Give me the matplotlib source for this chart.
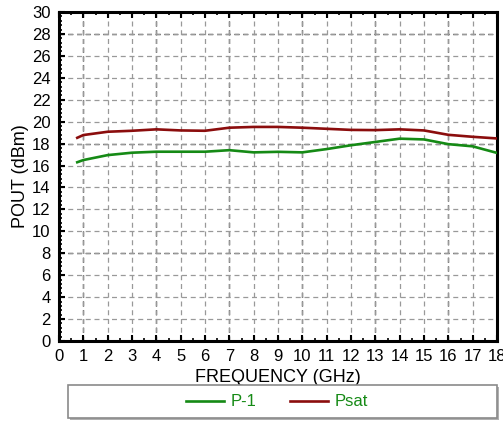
import matplotlib
matplotlib.use('Agg')
import matplotlib.pyplot as plt
from matplotlib.patches import Rectangle
from matplotlib.ticker import MultipleLocator

plt.rcParams['font.family'] = ['Liberation Sans', 'DejaVu Sans']

# data
freq = [0.75, 1, 2, 3, 4, 5, 6, 7, 8, 9, 10, 11, 12, 13, 14, 15, 16, 17, 18]
p1 = [16.3, 16.5, 16.95, 17.17, 17.26, 17.26, 17.26, 17.4, 17.2, 17.25, 17.2,
      17.5, 17.85, 18.15, 18.45, 18.38, 17.95, 17.75, 17.15]
psat = [18.53, 18.78, 19.08, 19.17, 19.3, 19.2, 19.17, 19.45, 19.52, 19.52, 19.45,
        19.35, 19.25, 19.23, 19.3, 19.2, 18.8, 18.62, 18.47]

green = '#158a15'
red = '#8b0d0d'

fig = plt.figure(figsize=(5.03, 4.21), dpi=100)
ax = fig.add_axes([59/503, 80/421, 438/503, 329/421])

ax.set_xlim(0, 18)
ax.set_ylim(0, 30)
ax.xaxis.set_major_locator(MultipleLocator(1))
ax.yaxis.set_major_locator(MultipleLocator(2))
ax.xaxis.set_minor_locator(MultipleLocator(0.5))
ax.yaxis.set_minor_locator(MultipleLocator(0.4))

ax.grid(True, which='major', color='#999999', linestyle=(0, (4, 3)), linewidth=0.9)
for xv in [1, 4, 7, 10, 13, 16]:
    ax.axvline(xv, color='black', linestyle=(0, (4, 3)), linewidth=0.9, zorder=1)
for yv in [8, 18, 28]:
    ax.axhline(yv, color='black', linestyle=(0, (4, 3)), linewidth=0.9, zorder=1)

ax.plot(freq, p1, color=green, linewidth=1.9, label='P-1', zorder=3)
ax.plot(freq, psat, color=red, linewidth=1.9, label='Psat', zorder=3)

for s in ax.spines.values():
    s.set_linewidth(2.2)
ax.tick_params(which='both', direction='in', top=True, right=False,
               labelsize=12, pad=6)
ax.tick_params(which='major', length=4, width=1.5)
ax.tick_params(which='minor', length=2.5, width=1.2)

ax.set_xlabel('FREQUENCY (GHz)', fontsize=13, labelpad=3)
ax.set_ylabel('POUT (dBm)', fontsize=13, labelpad=2)

# legend box under the chart
fig.patches.append(Rectangle((70/503, 1/421), 429/503, 33/421, transform=fig.transFigure,
                             facecolor='#b0b0b0', edgecolor='none'))
fig.patches.append(Rectangle((68/503, 3/421), 429/503, 33/421, transform=fig.transFigure,
                             facecolor='white', edgecolor='#8a8a8a', linewidth=1.2))
leg = fig.legend(loc='center', bbox_to_anchor=(277/503, 19/421), ncol=2, frameon=False,
                 fontsize=12, handlelength=2.3, handletextpad=0.4, columnspacing=2.0)
for t in leg.get_texts():
    t.set_color(green)

fig.savefig('out.png', dpi=100)
